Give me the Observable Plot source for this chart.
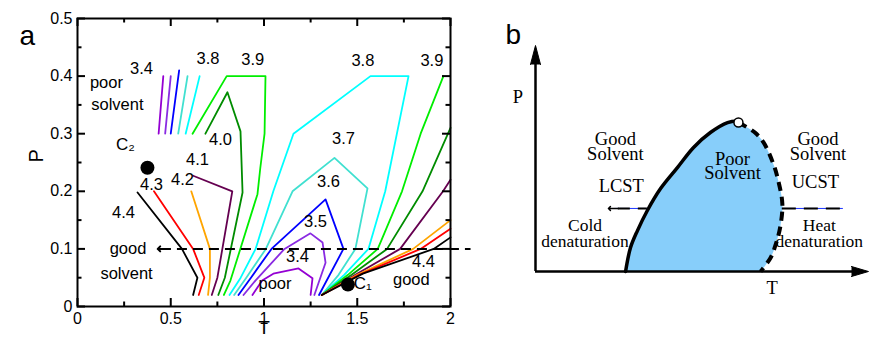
<!DOCTYPE html>
<html><head><meta charset="utf-8">
<script src="https://cdn.jsdelivr.net/npm/d3@7"></script>
<script src="https://cdn.jsdelivr.net/npm/@observablehq/plot@0.6"></script>
<style>
html,body{margin:0;padding:0;background:#fff;}
#wrap{display:flex;width:870px;height:343px;overflow:hidden;}
</style></head><body><div id="wrap"><div id="pa"></div><div id="pb"></div></div>
<script>
// ===== Panel a: contour paths [T, P] =====
const levels = ["3.4","3.5","3.6","3.7","3.8","3.9","4.0","4.1","4.2","4.3","4.4"];
const levelColors = ["#9400d3","#8a2be2","#0000ff","#40e0d0","#00ffff","#00ee00","#008c00","#650050","#ffa500","#ff0000","#000000"];

const c34Top = [[0.435,0.30],[0.46,0.40]];
const c35Top = [[0.47,0.30],[0.50,0.40]];
const c36Top = [[0.50,0.30],[0.545,0.41]];
const c37Top = [[0.54,0.30],[0.59,0.40]];
const c38Top = [[0.58,0.30],[0.655,0.40]];

const c34Loop = [[0.938,0.02],[0.99,0.045],[1.05,0.057],[1.185,0.066],[1.26,0.049],[1.25,0.02]];
const c35Loop = [[0.89,0.02],[0.954,0.045],[1.11,0.10],[1.249,0.127],[1.314,0.111],[1.33,0.076],[1.27,0.02]];
const c36Loop = [[0.863,0.02],[0.93,0.05],[1.04,0.10],[1.33,0.186],[1.426,0.10],[1.295,0.02]];
const c37Loop = [[0.84,0.02],[0.905,0.05],[1.01,0.10],[1.153,0.20],[1.378,0.258],[1.555,0.205],[1.49,0.10],[1.40,0.055],[1.31,0.02]];
const c38Loop = [[0.815,0.02],[0.875,0.05],[0.955,0.10],[1.05,0.20],[1.158,0.30],[1.571,0.40],[1.775,0.40],[1.65,0.20],[1.56,0.10],[1.43,0.055],[1.31,0.02]];

const c39Left  = [[0.617,0.30],[0.80,0.40],[1.008,0.40],[1.003,0.30],[0.98,0.24],[0.965,0.195],[0.82,0.045],[0.785,0.02]];
const c39Right = [[1.962,0.40],[1.84,0.30],[1.74,0.20],[1.61,0.10],[1.45,0.055],[1.31,0.02]];
const c40Left  = [[0.686,0.30],[0.804,0.372],[0.874,0.304],[0.885,0.198],[0.79,0.05],[0.755,0.02]];
const c40Right = [[2.0,0.31],[1.85,0.20],[1.66,0.10],[1.47,0.055],[1.31,0.02]];
const c41Left  = [[0.62,0.227],[0.83,0.20],[0.75,0.05],[0.72,0.02]];
const c41Right = [[2.0,0.22],[1.96,0.20],[1.73,0.10],[1.49,0.055],[1.31,0.02]];
const c42Left  = [[0.61,0.20],[0.71,0.10],[0.71,0.05],[0.70,0.02]];
const c42Right = [[2.0,0.15],[1.80,0.10],[1.50,0.055],[1.31,0.02]];
const c43Left  = [[0.41,0.20],[0.62,0.10],[0.68,0.05],[0.65,0.02]];
const c43Right = [[2.0,0.135],[1.84,0.10],[1.51,0.055],[1.31,0.02]];
const c44Left  = [[0.322,0.198],[0.56,0.10],[0.643,0.05],[0.62,0.02]];
const c44Right = [[2.0,0.12],[1.91,0.10],[1.53,0.057],[1.31,0.02]];

const contourPaths = [
  ["3.4",c34Top],["3.4",c34Loop],["3.5",c35Top],["3.5",c35Loop],["3.6",c36Top],["3.6",c36Loop],
  ["3.7",c37Top],["3.7",c37Loop],["3.8",c38Top],["3.8",c38Loop],["3.9",c39Left],["3.9",c39Right],
  ["4.0",c40Left],["4.0",c40Right],["4.1",c41Left],["4.1",c41Right],["4.2",c42Left],["4.2",c42Right],
  ["4.3",c43Left],["4.3",c43Right],["4.4",c44Left],["4.4",c44Right]
];

const contourLabels = [
  ["3.4",0.343,0.413],["3.8",0.70,0.43],["3.9",0.94,0.429],["3.8",1.53,0.427],["3.9",1.90,0.427],
  ["4.0",0.767,0.29],["4.1",0.643,0.255],["4.2",0.563,0.22],["4.3",0.397,0.212],["4.4",0.247,0.163],
  ["3.7",1.426,0.292],["3.6",1.346,0.217],["3.5",1.276,0.148],["3.4",1.18,0.087],["4.4",1.855,0.077]
];
const regionLabels = [
  ["poor",0.155,0.388],["solvent",0.214,0.351],["good",0.271,0.101],["solvent",0.263,0.057],
  ["poor",1.059,0.04],["good",1.79,0.046]
];
const critLabels = [["C\u2082",0.257,0.281],["C\u2081",1.53,0.040]];
const critPoints = [[0.375,0.241],[1.45,0.038]];

const xMajor = [0,0.5,1,1.5,2];
const xMinor = [0.25,0.75,1.25,1.75];
const yMajor = [0,0.1,0.2,0.3,0.4,0.5];
const yMinor = [0.05,0.15,0.25,0.35,0.45];
const guideP = 0.1, guideTip = 0.43, guideEnd = 2.11;

// ===== Panel b: schematic (arbitrary units) =====
const bLeft  = [[0.273,0],[0.288,0.106],[0.309,0.181],[0.339,0.27],[0.379,0.367],[0.430,0.460],[0.479,0.549],[0.530,0.615],[0.582,0.659],[0.612,0.666]];
const bRight = [[0.615,0.659],[0.664,0.616],[0.691,0.571],[0.721,0.475],[0.736,0.400],[0.748,0.300],[0.742,0.200],[0.728,0.12],[0.712,0.06],[0.682,0]];
const bCritical = [0.615,0.659];
const bHorizP = 0.279;
const bLeftArrow = [0.221,0.339];
const bRightLine = [0.748,0.933];
const bTexts = [
  ["P",-0.053,0.766],["T",0.717,-0.08],
  ["Good\nSolvent",0.242,0.549],["Good\nSolvent",0.856,0.549],
  ["Poor\nSolvent",0.597,0.461],["LCST",0.26,0.372],["UCST",0.848,0.389]
];
const bSmallTexts = [["Cold\ndenaturation",0.15,0.166],["Heat\ndenaturation",0.86,0.166]];

// ---------- build panel a ----------
const rows = contourPaths.flatMap(([level, pts], i) => pts.map(([T, P]) => ({T, P, level, id: i})));
const lab = a => a.map(([s, T, P]) => ({s, T, P}));
const H = 343, mL = 77, mR = 30, mT = 18, mB = 37, W = 480;
const pxT = (W - mL - mR) / 2, pxP = (H - mT - mB) / 0.5;
const majT = 8 / pxT, minT = 4.5 / pxT, majP = 8 / pxP, minP = 4.5 / pxP;
const sans = "'Liberation Sans', Arial, Helvetica, sans-serif";

const plotA = Plot.plot({
  width: W, height: H, marginLeft: mL, marginRight: mR, marginTop: mT, marginBottom: mB,
  x: {domain: [0, 2]}, y: {domain: [0, 0.5]},
  color: {domain: levels, range: levelColors},
  style: {fontFamily: sans, fontSize: "16px", background: "white", color: "black", overflow: "visible"},
  marks: [
    Plot.line(rows, {x: "T", y: "P", z: "id", stroke: "level", strokeWidth: 1.8}),
    Plot.ruleY([guideP], {y: d => d, x1: guideTip + 0.02, x2: guideEnd, strokeWidth: 2, strokeDasharray: "10,6"}),
    Plot.vector([guideP], {x: guideTip, y: d => d, rotate: -90, length: 11, anchor: "end", r: 4, strokeWidth: 2}),
    Plot.frame({strokeWidth: 2}),
    Plot.ruleX(xMajor, {x: d => d, y1: 0, y2: majP, strokeWidth: 2}),
    Plot.ruleX(xMajor, {x: d => d, y1: 0.5 - majP, y2: 0.5, strokeWidth: 2}),
    Plot.ruleX(xMinor, {x: d => d, y1: 0, y2: minP, strokeWidth: 2}),
    Plot.ruleX(xMinor, {x: d => d, y1: 0.5 - minP, y2: 0.5, strokeWidth: 2}),
    Plot.ruleY(yMajor, {y: d => d, x1: 0, x2: majT, strokeWidth: 2}),
    Plot.ruleY(yMajor, {y: d => d, x1: 2 - majT, x2: 2, strokeWidth: 2}),
    Plot.ruleY(yMinor, {y: d => d, x1: 0, x2: minT, strokeWidth: 2}),
    Plot.ruleY(yMinor, {y: d => d, x1: 2 - minT, x2: 2, strokeWidth: 2}),
    Plot.axisX({ticks: xMajor, tickSize: 0, tickPadding: 6, tickFormat: d => String(d), label: null, fontSize: 16}),
    Plot.axisY({ticks: yMajor, tickSize: 0, tickPadding: 5, tickFormat: d => String(d), label: null, fontSize: 16}),
    Plot.text(["T"], {text: d => d, frameAnchor: "bottom", dy: 27, fontSize: 19}),
    Plot.text(["P"], {text: d => d, frameAnchor: "left", dx: -41, rotate: -90, fontSize: 20}),
    Plot.text(["a"], {text: d => d, frameAnchor: "top-left", dx: -58, dy: 7, fontSize: 28}),
    Plot.text(lab(contourLabels), {x: "T", y: "P", text: "s", fontSize: 16.5}),
    Plot.text(lab(regionLabels), {x: "T", y: "P", text: "s", fontSize: 16.5}),
    Plot.text(lab(critLabels), {x: "T", y: "P", text: "s", fontSize: 17}),
    Plot.dot(critPoints, {x: d => d[0], y: d => d[1], r: 7, fill: "black", stroke: "none"})
  ]
});
document.getElementById("pa").append(plotA);

// ---------- build panel b ----------
const serif = "'Liberation Serif', 'Times New Roman', serif";
const pt = a => a.map(([T, P]) => ({T, P}));
const fillPoly = pt(bLeft.concat(bRight));
const plotB = Plot.plot({
  width: 390, height: H, marginLeft: 55, marginRight: 5, marginTop: 45, marginBottom: 72,
  x: {domain: [0, 1], axis: null}, y: {domain: [0, 1], axis: null},
  style: {fontFamily: serif, fontSize: "19px", background: "white", color: "black", overflow: "visible"},
  marks: [
    Plot.line(fillPoly, {x: "T", y: "P", fill: "#87cefa", stroke: "none", curve: "catmull-rom"}),
    Plot.ruleX([0], {x: d => d, y1: 0, y2: 0.93, strokeWidth: 2.5}),
    Plot.ruleY([0], {y: d => d, x1: 0, x2: 0.98, strokeWidth: 2.5}),
    Plot.vector([[0, 1]], {x: d => d[0], y: d => d[1], rotate: 0, length: 19, anchor: "end", shape: "spike", r: 5, fill: "black", stroke: "black", strokeWidth: 1}),
    Plot.vector([[1.009, 0]], {x: d => d[0], y: d => d[1], rotate: 90, length: 17, anchor: "end", shape: "spike", r: 5, fill: "black", stroke: "black", strokeWidth: 1}),
    Plot.line(pt(bLeft), {x: "T", y: "P", curve: "catmull-rom", strokeWidth: 3.5}),
    Plot.line(pt(bRight), {x: "T", y: "P", curve: "catmull-rom", strokeWidth: 4, strokeDasharray: "9,6", strokeLinecap: "butt"}),
    Plot.dot([bCritical], {x: d => d[0], y: d => d[1], r: 4.5, fill: "white", stroke: "black", strokeWidth: 1.5}),
    Plot.ruleY([bHorizP], {y: d => d, x1: bLeftArrow[0] + 0.02, x2: bLeftArrow[1], stroke: "#1a33ff", strokeWidth: 1}),
    Plot.ruleY([bHorizP], {y: d => d, x1: bLeftArrow[0] + 0.03, x2: bLeftArrow[1], strokeWidth: 2, strokeDasharray: "12,8"}),
    Plot.vector([bHorizP], {x: bLeftArrow[0], y: d => d, rotate: -90, length: 10, anchor: "end", r: 3.5, strokeWidth: 1.5}),
    Plot.ruleY([bHorizP], {y: d => d, x1: bRightLine[0], x2: bRightLine[1], stroke: "#1a33ff", strokeWidth: 1}),
    Plot.ruleY([bHorizP], {y: d => d, x1: bRightLine[0], x2: bRightLine[1], strokeWidth: 2, strokeDasharray: "14,8", strokeLinecap: "butt"}),
    Plot.text(lab(bTexts), {x: "T", y: "P", text: "s", fontSize: 18.5, lineHeight: 0.8}),
    Plot.text(lab(bSmallTexts), {x: "T", y: "P", text: "s", fontSize: 17.5, lineHeight: 0.9}),
    Plot.text(["b"], {text: d => d, frameAnchor: "top-left", dx: -30, dy: -21, fontSize: 28, fontFamily: sans})
  ]
});
document.getElementById("pb").append(plotB);
</script></body></html>
